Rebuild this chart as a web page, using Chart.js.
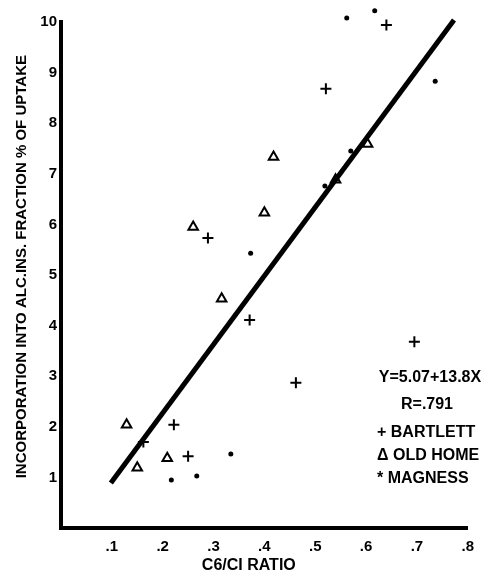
<!DOCTYPE html>
<html>
<head>
<meta charset="utf-8">
<script src="https://cdn.jsdelivr.net/npm/chart.js@4.4.0/dist/chart.umd.min.js"></script>
<style>
    html, body { margin: 0; padding: 0; background: #fff; }
</style>
</head>
<body>
<canvas id="chart" width="484" height="575"></canvas>
<script>
// values (x = C6/C1 ratio, y = % of uptake)
const bartlettX = [0.640, 0.521, 0.289, 0.371, 0.695, 0.462, 0.222, 0.162, 0.250];
const bartlettY = [9.94, 8.68, 5.73, 4.11, 3.68, 2.87, 2.04, 1.70, 1.42];

const oldHomeX = [0.129, 0.209, 0.150, 0.260, 0.400, 0.316, 0.418, 0.603, 0.540];
const oldHomeY = [2.04, 1.38, 1.19, 5.95, 6.23, 4.53, 7.33, 7.59, 6.88];

const magnessX = [0.562, 0.617, 0.736, 0.570, 0.519, 0.373, 0.334, 0.217, 0.267];
const magnessY = [10.08, 10.22, 8.83, 7.45, 6.76, 5.43, 1.46, 0.95, 1.03];

// regression line as drawn
const fitX = [0.098, 0.773];
const fitY = [0.89, 10.04];

const fitLabel = "Y=5.07+13.8X";
const rLabel = "R=.791";
const legendLines = ["+ BARTLETT", "\u0394 OLD HOME", "* MAGNESS"];

const FONT = '"Liberation Sans", Arial, sans-serif';
const NB = '\u00a0';

function pairs(xs, ys) {
    return xs.map((x, i) => ({ x: x, y: ys[i] }));
}

// a few points sit just above the 10 line, let them show
const overflow = {
    id: 'overflow',
    beforeDatasetsDraw(chart) { chart.chartArea.top -= 20; },
    afterDatasetsDraw(chart) { chart.chartArea.top += 20; }
};

const notes = {
    id: 'notes',
    afterDraw(chart) {
        const ctx = chart.ctx;
        ctx.save();
        ctx.fillStyle = '#000';
        ctx.font = 'bold 16px ' + FONT;
        ctx.textBaseline = 'middle';
        ctx.textAlign = 'center';
        ctx.fillText(fitLabel, 430, 378);
        ctx.fillText(rLabel, 427, 405);
        ctx.textAlign = 'left';
        legendLines.forEach((t, i) => {
            ctx.fillText(t, 377, 433 + i * 23);
        });
        ctx.restore();
    }
};

document.addEventListener("DOMContentLoaded", () => {
    const canvas = document.getElementById('chart');

    new Chart(canvas, {
        type: 'scatter',
        data: {
            datasets: [{
                label: 'Fit',
                type: 'line',
                data: pairs(fitX, fitY),
                borderColor: '#000',
                borderWidth: 5,
                pointRadius: 0,
                clip: false
            }, {
                label: 'BARTLETT',
                data: pairs(bartlettX, bartlettY),
                pointStyle: 'cross',
                pointRadius: 5.5,
                borderWidth: 2,
                borderColor: '#000',
                clip: false
            }, {
                label: 'OLD HOME',
                data: pairs(oldHomeX, oldHomeY),
                pointStyle: 'triangle',
                pointRadius: 5.5,
                borderWidth: 2,
                borderColor: '#000',
                backgroundColor: '#fff',
                clip: false
            }, {
                label: 'MAGNESS',
                data: pairs(magnessX, magnessY),
                pointStyle: 'circle',
                pointRadius: 2.5,
                borderWidth: 0,
                backgroundColor: '#000',
                clip: false
            }]
        },
        options: {
            responsive: false,
            animation: false,
            layout: { padding: { left: 0, right: 13, top: 22, bottom: 0 } },
            plugins: {
                legend: { display: false },
                tooltip: { enabled: false }
            },
            scales: {
                x: {
                    type: 'linear',
                    min: 0,
                    max: 0.8,
                    grid: { display: false, drawTicks: false },
                    border: { display: true, color: '#000', width: 4 },
                    ticks: {
                        stepSize: 0.1,
                        color: '#000',
                        padding: 10,
                        font: { family: FONT, size: 15, weight: 'bold' },
                        callback: (v) => v === 0 ? '' : '.' + Math.round(v * 10)
                    },
                    title: {
                        display: true,
                        text: 'C6/CI RATIO' + NB.repeat(7),
                        color: '#000',
                        padding: { top: 0, bottom: 0 },
                        font: { family: FONT, size: 16, weight: 'bold' }
                    },
                    afterFit: (scale) => { scale.height = 47; }
                },
                y: {
                    min: 0,
                    max: 10,
                    grid: { display: false, drawTicks: false },
                    border: { display: true, color: '#000', width: 4 },
                    ticks: {
                        stepSize: 1,
                        color: '#000',
                        padding: 4,
                        font: { family: FONT, size: 15, weight: 'bold' },
                        callback: (v) => v === 0 ? '' : v
                    },
                    title: {
                        display: true,
                        text: NB.repeat(4) + 'INCORPORATION INTO ALC.INS. FRACTION % OF UPTAKE',
                        color: '#000',
                        padding: { top: 13, bottom: 0 },
                        font: { family: FONT, size: 15, weight: 'bold' }
                    },
                    afterFit: (scale) => { scale.width = 61; }
                }
            }
        },
        plugins: [overflow, notes]
    });
});
</script>
</body>
</html>
